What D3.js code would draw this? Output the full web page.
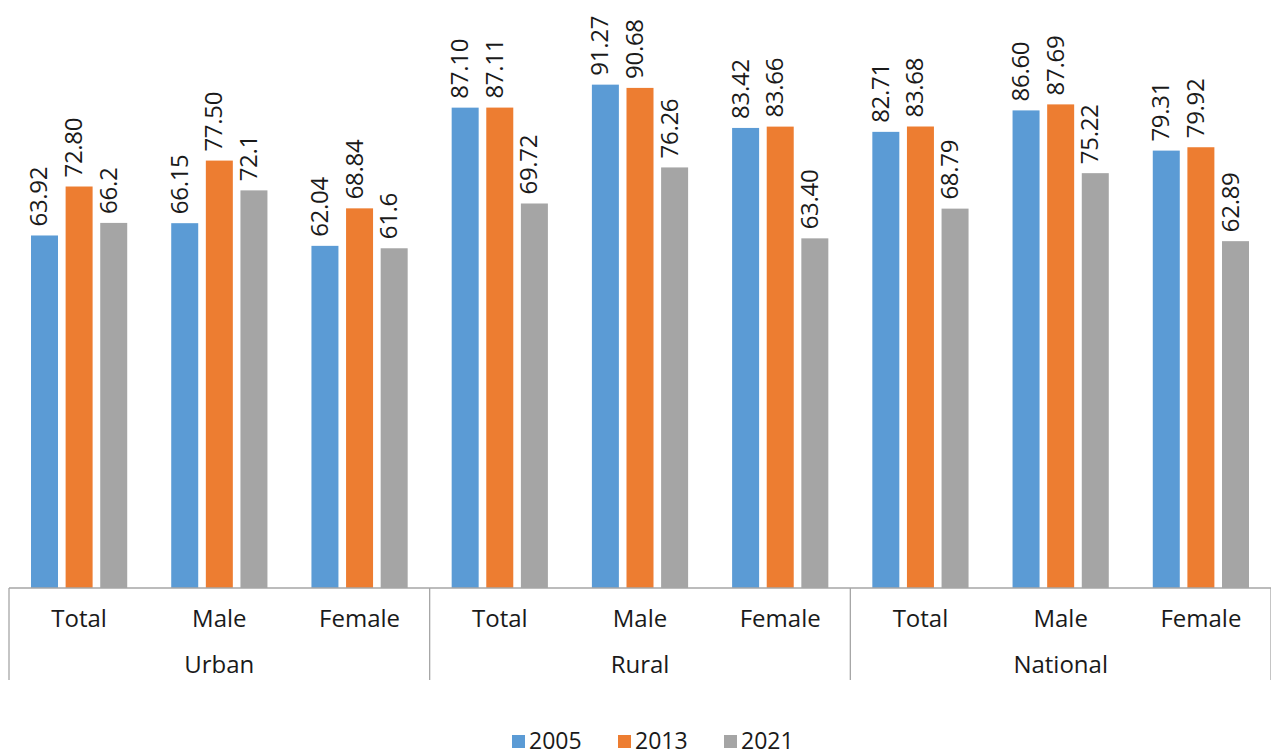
<!DOCTYPE html>
<html>
<head>
<meta charset="utf-8">
<script src="https://cdn.jsdelivr.net/npm/d3@7"></script>
<style>
  body { margin: 0; background: #fff; }
  text { font-family: "Open Sans", sans-serif; fill: #1a1a1a; }
</style>
</head>
<body>
<div id="chart"></div>
<script>
// data
var groups = ["Urban", "Rural", "National"];
var subs = ["Total", "Male", "Female"];
var years = ["2005", "2013", "2021"];
var v2005 = [63.92, 66.15, 62.04, 87.10, 91.27, 83.42, 82.71, 86.60, 79.31];
var v2013 = [72.80, 77.50, 68.84, 87.11, 90.68, 83.66, 83.68, 87.69, 79.92];
var v2021 = [66.2, 72.1, 61.6, 69.72, 76.26, 63.40, 68.79, 75.22, 62.89];
var labels2005 = ["63.92", "66.15", "62.04", "87.10", "91.27", "83.42", "82.71", "86.60", "79.31"];
var labels2013 = ["72.80", "77.50", "68.84", "87.11", "90.68", "83.66", "83.68", "87.69", "79.92"];
var labels2021 = ["66.2", "72.1", "61.6", "69.72", "76.26", "63.40", "68.79", "75.22", "62.89"];
var colors = ["#5B9BD5", "#ED7D31", "#A5A5A5"];

var W = 1271, H = 756;
var left = 9, right = 1271, base = 588;

var svg = d3.select("#chart").append("svg")
    .attr("width", W)
    .attr("height", H);

// build rows
var keys = [];
groups.forEach(function(g) { subs.forEach(function(s) { keys.push(g + "|" + s); }); });
var series = [v2005, v2013, v2021];
var seriesLabels = [labels2005, labels2013, labels2021];
var rows = [];
keys.forEach(function(k, i) {
  years.forEach(function(y, j) {
    rows.push({key: k, year: y, value: series[j][i], label: seriesLabels[j][i], color: colors[j]});
  });
});

var x0 = d3.scaleBand().domain(keys).range([left, right]).padding(0);
var step = x0.bandwidth();
var x1 = d3.scaleBand().domain(years).range([22, step - 22]).paddingInner(0.22).paddingOuter(0);
var y = d3.scaleLinear().domain([0, 100]).range([base, base - 551.5]);

// bars
svg.selectAll("rect.bar")
  .data(rows)
  .enter()
  .append("rect")
    .attr("class", "bar")
    .attr("x", function(d) { return x0(d.key) + x1(d.year); })
    .attr("y", function(d) { return y(d.value); })
    .attr("width", x1.bandwidth())
    .attr("height", function(d) { return base - y(d.value); })
    .attr("fill", function(d) { return d.color; });

// value labels
svg.selectAll("text.val")
  .data(rows)
  .enter()
  .append("text")
    .attr("class", "val")
    .attr("transform", function(d) {
      var cx = x0(d.key) + x1(d.year) + x1.bandwidth() / 2;
      return "translate(" + (cx + 3) + "," + (y(d.value) - 9) + ") rotate(-90)";
    })
    .attr("font-size", 24)
    .attr("letter-spacing", -0.3)
    .text(function(d) { return d.label; });

// axis line
var axisColor = "#a6a6a6";
svg.append("line")
  .attr("x1", left).attr("x2", right)
  .attr("y1", base).attr("y2", base)
  .attr("stroke", axisColor).attr("stroke-width", 1.3);

// group separators
var gWidth = step * subs.length;
var seps = d3.range(groups.length + 1).map(function(i) { return left + i * gWidth; });
svg.selectAll("line.sep")
  .data(seps)
  .enter()
  .append("line")
    .attr("x1", function(d) { return d; }).attr("x2", function(d) { return d; })
    .attr("y1", base).attr("y2", 680)
    .attr("stroke", axisColor).attr("stroke-width", 1.3);

// sub labels
svg.selectAll("text.sub")
  .data(keys)
  .enter()
  .append("text")
    .attr("x", function(d) { return x0(d) + step / 2; })
    .attr("y", 627)
    .attr("text-anchor", "middle")
    .attr("font-size", 24)
    .text(function(d) { return d.split("|")[1]; });

// group labels
svg.selectAll("text.grp")
  .data(groups)
  .enter()
  .append("text")
    .attr("x", function(d, i) { return left + i * gWidth + gWidth / 2; })
    .attr("y", 673)
    .attr("text-anchor", "middle")
    .attr("font-size", 24)
    .text(function(d) { return d; });

// legend
var legX = [512, 618, 724];
var leg = svg.selectAll("g.leg")
  .data(years)
  .enter()
  .append("g")
    .attr("transform", function(d, i) { return "translate(" + legX[i] + ",735)"; });
leg.append("rect")
  .attr("width", 13).attr("height", 13)
  .attr("fill", function(d, i) { return colors[i]; });
leg.append("text")
  .attr("x", 17).attr("y", 14)
  .attr("font-size", 23)
  .text(function(d) { return d; });
</script>
</body>
</html>
